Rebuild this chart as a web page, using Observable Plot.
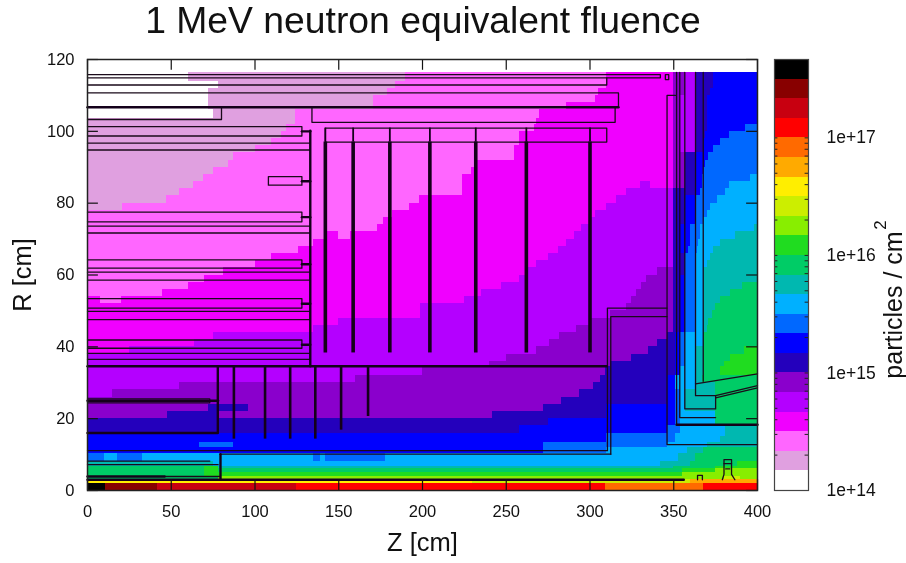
<!DOCTYPE html>
<html><head><meta charset="utf-8">
<script src="https://cdn.jsdelivr.net/npm/d3@7"></script>
<script src="https://cdn.jsdelivr.net/npm/@observablehq/plot@0.6"></script>
<style>
html,body{margin:0;padding:0;background:#fff}
#wrap{position:relative;width:906px;height:563px;overflow:hidden;font-family:"Liberation Sans",sans-serif;filter:blur(0.4px)}
#wrap svg{position:absolute;left:0;top:0;background:transparent}
#title{position:absolute;left:0;width:846px;top:-1px;text-align:center;font-size:37.3px;line-height:42px;color:#111}
</style></head><body>
<div id="wrap"><div id="title">1 MeV neutron equivalent fluence</div></div>
<script>
const bandColors = ["#ffffff","#e0a0e0","#ff66ff","#f000ff","#b400ff","#8a00cc","#2400bc","#0000ff","#0068ff","#00b0ff","#00b8b0","#00cc66","#20dc20","#88ee00","#ccee00","#ffee00","#ffaa00","#ff6a00","#ff0000","#c80010","#880000","#000000"];
const bandEdges = [1e14,1.468e14,2.154e14,3.162e14,4.642e14,6.813e14,1e15,1.468e15,2.154e15,3.162e15,4.642e15,6.813e15,1e16,1.468e16,2.154e16,3.162e16,4.642e16,6.813e16,1e17,1.468e17,2.154e17,3.162e17,4.642e17];
const zTicks = [0,50,100,150,200,250,300,350,400];
const rTicks = [0,20,40,60,80,100,120];
const decadeTicks = [1e14,1e15,1e16,1e17];
const minorTicks = [2e14,3e14,4e14,5e14,6e14,7e14,8e14,9e14,1e15,2e15,3e15,4e15,5e15,6e15,7e15,8e15,9e15,1e16,2e16,3e16,4e16,5e16,6e16,7e16,8e16,9e16,1e17];

// each row: R top, R bottom, then pairs of (band index, Z where that band ends)
const fluenceRows = [
[116.4,114,[0,60,1,190,2,310,3,350,5,357,4,363,6,374,7,400]],
[114,112,[0,78,1,184,2,310,3,350,5,357,4,363,6,374,7,400]],
[112,110,[0,72,1,179,2,305,3,350,5,357,4,363,6,372,7,400]],
[110,108,[0,72,1,171,2,303,3,350,5,354,4,363,6,370,7,400]],
[108,106,[0,72,1,171,2,286,3,350,5,354,4,363,6,370,7,400]],
[106,103.5,[0,75,1,124,2,270,3,350,5,354,4,363,6,370,7,400]],
[103.5,102,[1,124,2,268,3,350,5,354,4,363,6,370,7,400]],
[102,100,[1,119,2,267,3,350,5,354,4,363,6,370,7,393,8,400]],
[100,98,[1,116,2,258,3,350,5,354,4,363,6,369,7,383,8,400]],
[98,96,[1,110,2,258,3,350,5,354,4,363,6,368,7,378,8,400]],
[96,94,[1,100,2,255,3,350,5,354,4,363,6,368,7,374,8,400]],
[94,92,[1,87,2,255,3,350,5,357,6,363,7,371,8,400]],
[92,90,[1,84,2,233,3,350,5,357,6,363,7,369,8,400]],
[90,88,[1,75,2,229,3,350,5,357,6,363,7,368,8,400]],
[88,86,[1,69,2,224,3,350,5,357,6,363,7,367,8,396,9,400]],
[86,84,[1,63,2,224,3,330,4,336,3,350,5,357,6,363,7,367,8,383,9,400]],
[84,82,[1,55,2,224,3,322,4,350,6,363,7,366,8,381,9,400]],
[82,80,[1,47,2,198,3,316,4,350,6,357,7,363,8,376,9,400]],
[80,78,[1,21,2,192,3,310,4,350,6,357,7,363,8,372,9,400]],
[78,76,[2,182,3,303,4,350,6,357,7,363,8,370,9,400]],
[76,74,[2,177,3,300,4,350,6,357,7,363,8,368,9,400]],
[74,72,[2,173,3,295,4,350,6,354,7,360,8,366,9,398,10,400]],
[72,70,[2,143,3,150,2,157,3,291,4,350,6,354,7,360,8,366,9,387,10,400]],
[70,68,[2,135,3,286,4,350,6,354,7,360,8,365,9,378,10,400]],
[68,66,[2,126,3,281,4,350,6,354,7,359,8,364,9,374,10,400]],
[66,64,[2,110,3,275,4,350,6,357,8,363,9,372,10,400]],
[64,62,[2,100,3,268,4,350,6,357,8,363,9,370,10,400]],
[62,60,[2,81,3,262,4,340,5,350,6,357,8,363,9,368,10,400]],
[60,58,[2,70,3,258,4,334,5,350,6,354,7,357,8,363,9,368,10,400]],
[58,56,[2,60,3,247,4,331,5,350,6,354,7,357,8,363,9,368,10,391,11,400]],
[56,54,[2,45,3,235,4,328,5,350,6,354,7,357,8,363,9,368,10,384,11,400]],
[54,52,[3,8,2,20,3,225,4,325,5,350,6,354,7,357,8,363,9,368,10,378,11,400]],
[52,50,[3,199,4,322,5,350,6,354,7,357,8,363,9,368,10,375,11,400]],
[50,48,[3,199,4,312,5,350,6,354,7,357,8,363,9,368,10,373,11,400]],
[48,46,[3,150,4,300,5,350,6,354,7,357,8,363,9,368,10,371,11,400]],
[46,44,[3,135,4,292,5,350,6,354,7,357,8,363,9,368,10,370,11,400]],
[44,42,[3,75,4,282,5,346,6,351,7,354,8,357,9,368,11,400]],
[42,40,[3,64,4,276,5,340,6,351,7,354,8,357,9,368,11,400]],
[40,38,[3,25,4,268,5,335,6,351,7,354,8,357,9,363,10,368,11,392,12,400]],
[38,36,[4,250,5,325,6,351,7,354,8,357,9,363,10,368,11,384,12,400]],
[36,34.6,[4,240,5,312,6,351,7,354,8,357,9,363,10,368,11,380,12,400]],
[34.6,32,[4,200,5,309,6,351,7,354,9,363,10,368,11,378,12,400]],
[32,30,[4,160,5,306,6,346,7,351,9,363,10,367,11,400]],
[30,28,[4,55,5,302,6,346,7,351,9,363,10,375,11,400]],
[28,26,[4,15,5,294,6,346,7,351,8,354,9,357,10,375,11,400]],
[26,24,[5,283,6,346,7,351,8,354,9,357,10,375,11,400]],
[24,22,[5,72,6,96,5,272,6,310,7,351,8,354,9,357,10,375,11,400]],
[22,20,[5,48,6,78,5,242,6,310,7,351,8,354,9,375,11,400]],
[20,18,[6,275,7,351,8,354,9,375,11,400]],
[18,16,[6,258,7,346,8,354,9,381,10,400]],
[16,15,[7,310,8,351,9,381,10,400]],
[15,13.5,[7,310,8,351,9,378,10,400]],
[13.5,12,[7,67,8,87,7,272,8,346,9,370,10,400]],
[12,10.2,[7,272,8,310,9,358,10,368,11,400]],
[10.2,8.2,[8,10,9,18,8,33,9,135,8,139,9,142,8,178,9,353,10,363,11,400]],
[8.2,6.8,[10,75,9,342,10,360,11,388,12,400]],
[6.8,6,[11,70,12,78,10,350,11,375,12,400]],
[6,5,[11,70,12,78,11,355,12,375,13,400]],
[5,3.8,[11,70,12,355,13,400]],
[3.8,3,[11,78,13,380,14,390,13,400]],
[3,2,[15,230,14,360,16,400]],
[2,0,[21,11,20,42,19,125,18,309,17,368,18,400]]
];

// detector outlines, as [Z, R] vertices
const outlines = [
[[0,115.8],[342,115.8],[342,114.9],[0,114.9]],
[[0,112.9],[310,112.9],[310,114.9]],
[[0,110.7],[317,110.7],[317,106.7],[0,106.7]],
[[80,106.7],[80,103.3],[0,103.3]],
[[134,106.7],[134,102.5],[315,102.5],[315,106.7]],
[[142,100.9],[310,100.9],[310,97],[142,97],[142,100.9]],
[[0,101.3],[128,101.3],[128,98.7],[0,98.7]],
[[0,96.7],[133,96.7]],[[0,94.8],[133,94.8]],
[[108,87.4],[128,87.4],[128,85],[108,85],[108,87.4]],
[[0,77.5],[128,77.5],[128,74.8],[0,74.8]],
[[0,73.6],[133,73.6]],[[0,71.7],[133,71.7]],
[[0,64.2],[128,64.2],[128,61.9],[0,61.9]],
[[0,60.8],[133,60.8]],[[0,58.6],[133,58.6]],
[[0,53.4],[128,53.4],[128,50.8],[0,50.8]],
[[0,49.9],[133,49.9]],[[0,47.6],[133,47.6]],
[[0,41.9],[128,41.9],[128,39.6],[0,39.6]],
[[0,38.2],[133,38.2]],[[0,36.5],[133,36.5]],
[[0,25.5],[73,25.5],[73,24.4],[0,24.4]],
[[310.4,34.6],[310.4,50.8],[346,50.8]],
[[312.4,10.1],[312.4,48.4],[346,48.4]],
[[310.4,34.6],[310.4,11.1],[0,11.1]],
[[312.4,10.1],[79,10.1]],
[[0,8.2],[73,8.2]],[[0,7.2],[78,7.2]],[[46,3.9],[79,3.9]],
[[345,115.8],[347,115.8],[347,114.4],[345,114.4],[345,115.8]],
[[400,12.8],[346,12.8],[346,110],[351,110]],
[[351.7,116.4],[351.7,18.3]],
[[353.6,116.4],[353.6,20.3],[375,20.3]],
[[356.6,116.4],[356.6,22.7],[375,22.7],[375,26.4],[363,26.4],[363,116.4]],
[[367.6,116.4],[367.6,30.4]],
[[363,29.7],[400,32.5]],
[[375,26.4],[400,29.2]],
[[375,25.8],[400,28.6]],
[[379,3],[380,4.5],[380,8.6],[384.5,8.6],[384.5,4.5],[386.5,3]],
[[380,7.5],[384.5,7.5]],[[381,6],[383.5,6]],
[[364.2,3],[364.2,4.2],[367.1,4.2],[367.1,3]]
];
const heavyOutlines = [
[[0,106.7],[317,106.7]],
[[0,34.6],[310,34.6]],
[[133,100.2],[133,34.6]],
[[77.8,34.6],[77.8,16],[0,16]],
[[0,25],[78,25]],
[[79.4,10.1],[79.4,3.2]],
[[0,3],[356,3]],
[[0,3.9],[46,3.9]],
[[351.7,18.3],[400,18.3]],
[[128,100],[133,100]],[[128,86.1],[133,86.1]],[[128,76.1],[133,76.1]],[[128,63],[133,63]],[[128,52],[133,52]],[[128,40.6],[133,40.6]]
];
const upperPlateZ = [142,158.6,180.5,204.4,231.8,262,300];
const lowerPlates = [[87.4,14.3],[106,14.3],[121,14.3],[136,14.3],[151.4,16.8],[167.5,20.6]];

const cells = fluenceRows.flatMap(([top,bottom,runs]) => {
  const out = [];
  let start = 0;
  for (let i = 0; i < runs.length; i += 2) {
    out.push({band: runs[i], z1: start, z2: runs[i+1], r1: bottom, r2: top});
    start = runs[i+1];
  }
  return out;
});
const bandRange = bandColors.map((c,i)=>i);
const font = "Liberation Sans";

const main = Plot.plot({
  width: 906, height: 563,
  marginLeft: 87, marginRight: 149, marginTop: 59, marginBottom: 73,
  style: {background:"transparent", fontFamily:font, color:"#111"},
  x: {domain:[0,400], label:null},
  y: {domain:[0,120], label:null},
  color: {type:"ordinal", domain: bandRange, range: bandColors},
  marks: [
    Plot.rect(cells, {x1:"z1", x2:"z2", y1:"r1", y2:"r2", fill:"band", shapeRendering:"crispEdges"}),
    ...outlines.map(p => Plot.line(p, {x:d=>d[0], y:d=>d[1], stroke:"#1a0a1a", strokeWidth:1.3, strokeLinejoin:"round"})),
    ...heavyOutlines.map(p => Plot.line(p, {x:d=>d[0], y:d=>d[1], stroke:"#14001a", strokeWidth:2.4})),
    Plot.ruleX(upperPlateZ, {y1:97, y2:100.9, stroke:"#14001a", strokeWidth:1.8}),
    Plot.ruleX(upperPlateZ, {y1:38.3, y2:97, stroke:"#14001a", strokeWidth:3.6}),
    Plot.ruleX(lowerPlates, {x:d=>d[0], y1:d=>d[1], y2:34.6, stroke:"#14001a", strokeWidth:2.6}),
    Plot.ruleX(zTicks, {y1:0, y2:3, stroke:"#111", strokeWidth:1.2}),
    Plot.ruleX(zTicks, {y1:117, y2:120, stroke:"#111", strokeWidth:1.2}),
    Plot.ruleY(rTicks, {x1:0, x2:6.5, stroke:"#111", strokeWidth:1.2}),
    Plot.ruleY(rTicks, {x1:393.5, x2:400, stroke:"#111", strokeWidth:1.2}),
    Plot.frame({stroke:"#222", strokeWidth:1.5}),
    Plot.axisX({ticks:zTicks, tickSize:0, tickPadding:15, fontSize:16.5, label:null}),
    Plot.axisY({ticks:rTicks, tickSize:0, tickPadding:13, fontSize:16.5, label:null}),
    Plot.text(["Z [cm]"], {frameAnchor:"bottom", dy:60, fontSize:25.5, fill:"#111"}),
    Plot.text(["R [cm]"], {frameAnchor:"left", dx:-65, rotate:-90, textAnchor:"middle", fontSize:25.5, fill:"#111"})
  ]
});

const edgePairs = bandEdges.slice(0,-1).map((e,i)=>({lo:e, hi:bandEdges[i+1], band:i}));
const legend = Plot.plot({
  width: 906, height: 563,
  marginLeft: 774, marginRight: 98, marginTop: 59, marginBottom: 73,
  style: {background:"transparent", fontFamily:font, color:"#111"},
  x: {domain:[0,1], axis:null},
  y: {type:"log", domain:[1e14,4.642e17], label:null, axis:null},
  color: {type:"ordinal", domain: bandRange, range: bandColors},
  marks: [
    Plot.rect(edgePairs, {x1:0, x2:1, y1:"lo", y2:"hi", fill:"band", shapeRendering:"crispEdges"}),
    Plot.ruleY(minorTicks, {x1:0, x2:0.1, stroke:"#222", strokeWidth:1}),
    Plot.ruleY(minorTicks, {x1:0.9, x2:1, stroke:"#222", strokeWidth:1}),
    Plot.frame({stroke:"#444", strokeWidth:1.2}),
    Plot.axisY({anchor:"right", ticks:decadeTicks, tickSize:0, tickPadding:18, fontSize:17.5, tickFormat:d=>"1e+"+Math.round(Math.log10(d)), label:null}),
    Plot.text(["particles / cm"], {frameAnchor:"right", dx:85, dy:30, rotate:-90, textAnchor:"middle", fontSize:25, fill:"#111"}),
    Plot.text(["2"], {frameAnchor:"right", dx:72, dy:-50, rotate:-90, textAnchor:"middle", fontSize:17, fill:"#111"})
  ]
});
document.getElementById("wrap").append(main, legend);
</script>
</body></html>
